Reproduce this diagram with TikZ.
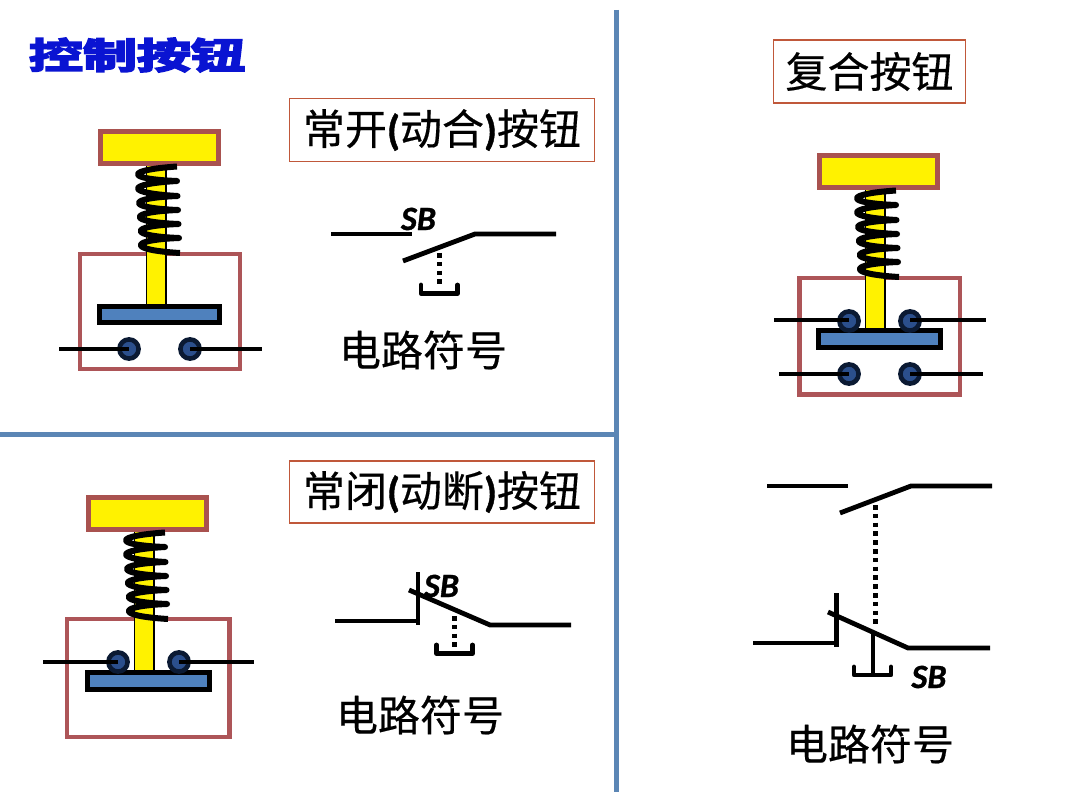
\documentclass[tikz,border=0pt]{standalone}
\usepackage{fontspec}
\setmainfont{Carlito}
\newfontfamily\cjk[FakeBold=0.4]{Noto Sans CJK SC}
\newfontfamily\cjkb[FakeBold=4.5]{Noto Sans CJK SC Bold}
\newfontfamily\lat[FakeBold=1]{Carlito}
\definecolor{divider}{HTML}{5B86B5}
\definecolor{brownbox}{HTML}{AD5558}
\definecolor{capline}{HTML}{A9524F}
\definecolor{labelline}{HTML}{C0583A}
\definecolor{plate}{HTML}{4F81BD}
\definecolor{contact}{HTML}{2B4F8C}
\definecolor{contactline}{HTML}{0B1A33}
\definecolor{titleblue}{HTML}{0A14D2}
\tikzset{
  x=1pt,y=-1pt,
  wire/.style={line width=4.6pt,black},
  sym/.style={line width=4.8pt,black},
  dots/.style={line width=5pt,black,dash pattern=on 4.6pt off 4.2pt},
  bracket/.style={line width=4.8pt,black,line join=round,line cap=round},
  housing/.style={draw=brownbox,line width=4.2pt},
  capbox/.style={draw=capline,fill=yellow,line width=5pt},
  stem/.style={draw=black,fill=yellow,line width=1.2pt},
  plateb/.style={draw=black,fill=plate,line width=5pt},
  contactc/.style={draw=contactline,fill=contact,line width=4.6pt},
  coil/.style={line width=6pt,black,line cap=butt,line join=round},
  lab/.style={draw=labelline,line width=1.5pt,inner sep=0pt,font=\fontsize{42}{42}\selectfont\cjk},
  sym text/.style={inner sep=0pt,font=\fontsize{42}{42}\selectfont\cjk},
  sb/.style={inner sep=0pt,font=\fontsize{34}{34}\selectfont\lat\bfseries\itshape},
}
\newcommand{\capstem}[3]{% dx dy stem bottom (in local coordinates)
  \begin{scope}[shift={(#1,#2)}]
    \filldraw[stem] (146.5,165) rectangle (166,#3);
    \filldraw[capbox] (100.4,131.4) rectangle (218,163.4);
  \end{scope}}
\newcommand{\coils}[2]{%
  \begin{scope}[shift={(#1,#2)}]
    \draw[coil] (177,166.5)
      .. controls (125,170) and (125,179) .. (177,181)
      .. controls (125,184) and (125,193) .. (177.5,196)
      .. controls (126,198) and (126,208) .. (178,210)
      .. controls (127,212) and (127,222) .. (178.5,224)
      .. controls (128,226) and (128,236) .. (179,238)
      .. controls (128,240) and (128,250) .. (180,253);
  \end{scope}}
\newcommand{\contactpair}[6]{% xl xr y leftend rightend yw
  \draw[contactc] (#1,#3) circle (9.6);
  \draw[contactc] (#2,#3) circle (9.6);
  \draw[wire] (#4,#6) -- (#1,#6);
  \draw[wire] (#2,#6) -- (#5,#6);}
\begin{document}
\begin{tikzpicture}
\useasboundingbox (0,0) rectangle (1080,810);
\fill[white] (0,0) rectangle (1080,810);
% dividers
\draw[divider,line width=5pt] (616.5,10) -- (616.5,792);
\draw[divider,line width=4.4pt] (0,434.5) -- (616,434.5);
% title
\node[inner sep=0pt,text=titleblue,xscale=1.5,transform shape,font=\fontsize{36}{36}\selectfont\cjkb] (title) at (137,55) {控制按钮};
% labels
\node[lab,minimum width=305pt,minimum height=63pt] (noLabel) at (442,130) {常开\textbf{\lat(}动合\textbf{\lat)}按钮};
\node[lab,minimum width=305pt,minimum height=62pt] (ncLabel) at (442,492) {常闭\textbf{\lat(}动断\textbf{\lat)}按钮};
\node[lab,minimum width=192pt,minimum height=63pt] (coLabel) at (869.5,71.5) {复合按钮};
\node[sym text] (noText) at (423,350) {电路符号};
\node[sym text] (ncText) at (420,715) {电路符号};
\node[sym text] (coText) at (870,744) {电路符号};
% normally open assembly
\draw[housing] (79.8,253.8) rectangle (240,369);
\capstem{0}{0}{305}
\coils{0}{0}
\draw[plateb] (99.4,306.4) rectangle (219.6,322.6);
\contactpair{129}{190}{349}{59}{262}{349}
% normally closed assembly
\draw[housing] (67,618.8) rectangle (229.5,737);
\capstem{-12}{366}{305}
\coils{-12}{366}
\draw[plateb] (87.4,672.4) rectangle (209.4,689.2);
\contactpair{118}{179}{662}{43}{254}{662}
% compound assembly
\draw[housing] (799.5,277.8) rectangle (960,394.5);
\capstem{719}{24}{305}
\coils{719}{24}
\draw[plateb] (818.4,330.4) rectangle (940.2,347.4);
\contactpair{849}{910}{321}{774}{986}{320}
\contactpair{849}{910}{374}{779}{983}{374}
% symbol NO
\draw[sym] (331,234) -- (412,234);
\draw[sym] (403,261) -- (475,234) -- (556,234);
\draw[dots] (439,253) -- (439,287);
\draw[bracket] (421,285) -- (421,293.5) -- (457.5,293.5) -- (457.5,285);
\node[sb] (sbNO) at (418.5,219) {SB};
% symbol NC
\draw[sym] (335,621) -- (418,621);
\draw[sym] (418,572) -- (418,625);
\draw[sym] (409,590) -- (490,625) -- (571,625);
\draw[dots] (454,616) -- (454,649);
\draw[bracket] (436.5,645) -- (436.5,653.5) -- (472.5,653.5) -- (472.5,645);
\node[sb] (sbNC) at (441.5,586) {SB};
% symbol compound
\draw[sym] (767,486) -- (848,486);
\draw[sym] (840,513) -- (911,486) -- (992,486);
\draw[dots] (875.5,505) -- (875.5,627);
\draw[sym] (753,643) -- (836.5,643);
\draw[sym] (836.5,593) -- (836.5,647);
\draw[sym] (828,612) -- (908,648) -- (990,648);
\draw[sym] (873,631) -- (873,674);
\draw[bracket] (854,667) -- (854,675) -- (891,675) -- (891,667);
\node[sb] (sbCO) at (929,677) {SB};
\end{tikzpicture}
\end{document}
